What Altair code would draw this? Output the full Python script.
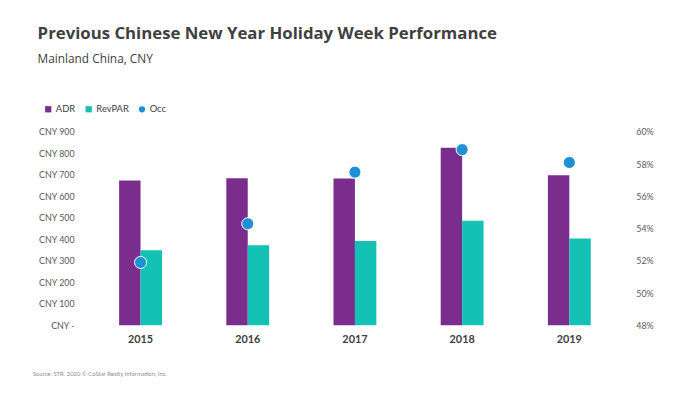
import altair as alt
import pandas as pd

years = ["2015", "2016", "2017", "2018", "2019"]
adr = [674, 684, 683, 826, 698]
revpar = [349, 372, 392, 487, 404]
occ = [51.9, 54.3, 57.5, 58.9, 58.1]

series_names = ["ADR", "RevPAR", "Occ"]
series_colors = ["#7b2d8d", "#14c1b5", "#1e90d6"]
series_shapes = ["square", "square", "circle"]
left_ticks = [0, 100, 200, 300, 400, 500, 600, 700, 800, 900]
right_ticks = [48, 50, 52, 54, 56, 58, 60]
source = "Source: STR. 2020 \u00a9 CoStar Realty Information, Inc."

bars_df = pd.DataFrame({
    "year": years * 2,
    "series": ["ADR"] * len(years) + ["RevPAR"] * len(years),
    "value": adr + revpar,
})
occ_df = pd.DataFrame({"year": years, "series": ["Occ"] * len(years), "occ": occ})
src_df = pd.DataFrame({"t": [source]})

FONT = "Lato"
TXT = "#404040"

legend = alt.Legend(
    title=None,
    orient="none",
    direction="horizontal",
    legendX=-44,
    legendY=-28,
    labelFont=FONT,
    labelFontSize=9.5,
    labelColor=TXT,
    columnPadding=8,
    labelOffset=3,
    padding=0,
    symbolSize=40,
    symbolStrokeWidth=0,
)

color = alt.Color("series:N", scale=alt.Scale(domain=series_names, range=series_colors), legend=legend)
shape = alt.Shape("series:N", scale=alt.Scale(domain=series_names, range=series_shapes), legend=legend)

x = alt.X(
    "year:N",
    sort=years,
    title=None,
    scale=alt.Scale(paddingInner=0.6, paddingOuter=0.3),
    axis=alt.Axis(
        labelAngle=0, ticks=False, domain=False, grid=False,
        labelFont=FONT, labelFontSize=11, labelFontWeight="bold",
        labelColor=TXT, labelPadding=8,
    ),
)

bars = alt.Chart(bars_df).mark_bar().encode(
    x=x,
    xOffset=alt.XOffset("series:N", sort=["ADR", "RevPAR"], scale=alt.Scale(paddingInner=0, paddingOuter=0)),
    y=alt.Y(
        "value:Q",
        title=None,
        scale=alt.Scale(domain=[0, 900], nice=False),
        axis=alt.Axis(
            values=left_ticks, grid=False, ticks=False, domain=False,
            labelExpr="datum.value == 0 ? 'CNY -' : 'CNY ' + datum.value",
            labelFont=FONT, labelFontSize=9, labelColor="#595959", labelPadding=13,
        ),
    ),
    color=color,
)

points = alt.Chart(occ_df).mark_point(size=150, filled=True, opacity=1, stroke="white", strokeWidth=1).encode(
    x=x,
    y=alt.Y(
        "occ:Q",
        title=None,
        scale=alt.Scale(domain=[48, 60], nice=False, zero=False),
        axis=alt.Axis(
            orient="right", values=right_ticks, grid=False, ticks=False, domain=False,
            labelExpr="datum.value + '%'",
            labelFont=FONT, labelFontSize=9, labelColor="#595959", labelPadding=13,
        ),
    ),
    color=color,
    shape=shape,
)

src = alt.Chart(src_df).mark_text(
    align="left", baseline="middle", font=FONT, fontSize=6, color="#8c8c8c"
).encode(x=alt.value(-55), y=alt.value(245), text="t:N")

chart = alt.layer(bars, points, src).resolve_scale(y="independent").properties(
    width=543,
    height=196,
    background="white",
    autosize=alt.AutoSizeParams(type="none"),
    padding={"left": 80, "top": 123, "right": 70, "bottom": 60},
    title=alt.Title(
        "Previous Chinese New Year Holiday Week Performance",
        subtitle="Mainland China, CNY",
        anchor="start",
        frame="group",
        font="Open Sans",
        fontSize=17,
        fontWeight="bold",
        color=TXT,
        subtitleFont="Open Sans",
        subtitleFontSize=12,
        subtitleColor=TXT,
        subtitlePadding=11,
        dx=-50,
        offset=39,
    ),
).configure_view(stroke=None, strokeWidth=0)

chart.save("out.html", embed_options={"renderer": "svg", "actions": False})
